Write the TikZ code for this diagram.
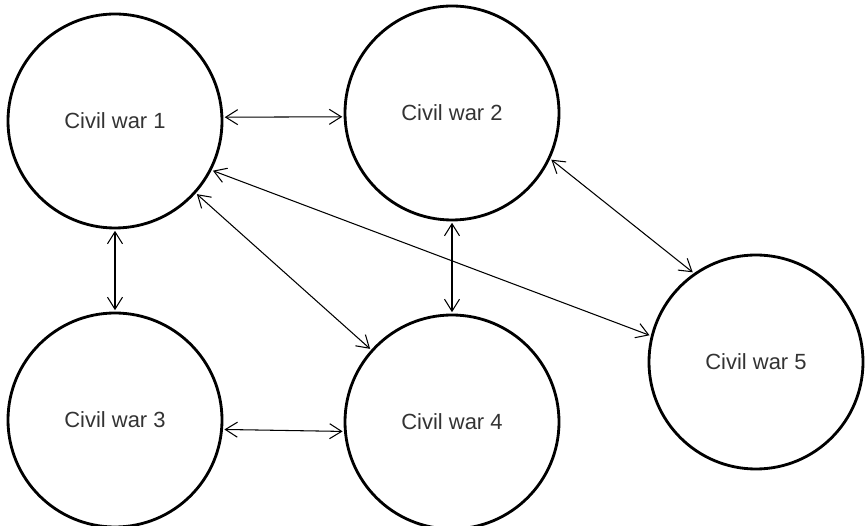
\documentclass[tikz,border=0pt]{standalone}
\usepackage{fontspec}
\setmainfont{Liberation Sans}
\usepackage{xcolor}
\usepackage{tikz}
\usetikzlibrary{arrows.meta}

\definecolor{labelgray}{HTML}{333333}

\begin{document}
\begin{tikzpicture}[
  font=\fontsize{12.5}{15}\selectfont,
  war/.style={draw, circle, line width=1.6pt, minimum size=4.28cm,
              inner sep=0pt, text=labelgray},
  link/.style={{Straight Barb[length=2.4mm,width=3mm]}-{Straight Barb[length=2.4mm,width=3mm]},
               line width=0.6pt, shorten <=0.8pt, shorten >=0.8pt},
]
  \useasboundingbox (0,0) rectangle (17.32,-10.52);

  \node[war] (w1) at (2.30, -2.42)  {Civil war 1};
  \node[war] (w2) at (9.04, -2.26)  {Civil war 2};
  \node[war] (w3) at (2.30, -8.40)  {Civil war 3};
  \node[war] (w4) at (9.04, -8.44)  {Civil war 4};
  \node[war] (w5) at (15.12, -7.24) {Civil war 5};

  \draw[link] (w1.2)   -- (w2.182);
  \draw[link] (w1)     -- (w3);
  \draw[link] (w1)     -- (w4);
  \draw[link] (w1.-27) -- (w5.166);
  \draw[link] (w2)     -- (w4);
  \draw[link] (w2.-25) -- (w5.125);
  \draw[link] (w3.-5)  -- (w4.185);
\end{tikzpicture}
\end{document}
